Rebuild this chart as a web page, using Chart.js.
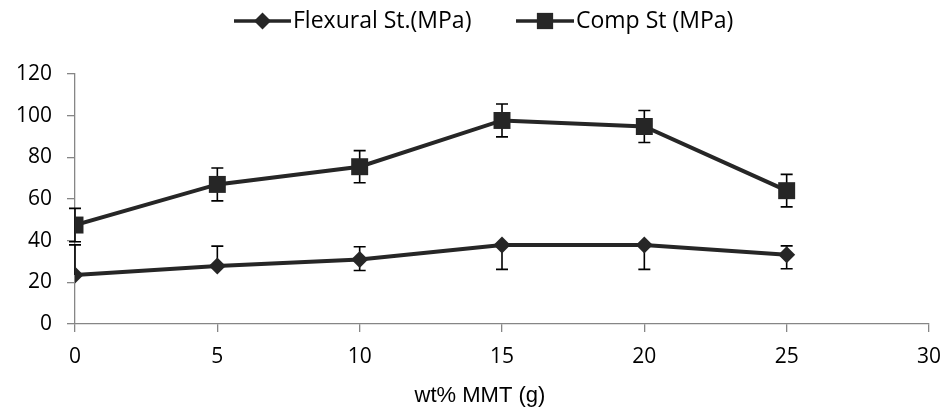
<!DOCTYPE html>
<html lang="en">
<head>
  <meta charset="UTF-8" />
  <title>Flexural and compressive strength vs MMT</title>
  <script src="https://cdn.jsdelivr.net/npm/chart.js"></script>
  <style>
    body { margin: 0; padding: 0; background: #fff; }
    #wrap { width: 944px; height: 416px; }
  </style>
</head>
<body>
  <div id="wrap"><canvas id="chart" width="944" height="416"></canvas></div>

  <script>
    // values
    const mmt = [0, 5, 10, 15, 20, 25];
    const flexural = [23.5, 27.8, 31.0, 37.9, 37.9, 33.2];
    const flexUp = [14.5, 9.6, 6.1, 0, 0, 4.3];
    const flexDown = [0, 0, 5.3, 11.7, 11.7, 6.7];
    const comp = [47.5, 67.0, 75.5, 97.7, 94.8, 64.0];
    const compErr = [8.0, 7.9, 7.7, 7.9, 7.7, 7.8];
    const xTicks = [0, 5, 10, 15, 20, 25, 30];
    const yTicks = [0, 20, 40, 60, 80, 100, 120];
    const xTitle = "wt% MMT (g)";

    const lineColor = "#262626";
    const axisColor = "#868686";

    const errorBars = {
      id: "errorBars",
      beforeDatasetsDraw(chart) {
        const { ctx, scales: { x, y } } = chart;
        const sets = [
          { vals: flexural, up: flexUp, down: flexDown },
          { vals: comp, up: compErr, down: compErr },
        ];
        ctx.save();
        ctx.strokeStyle = "#000";
        ctx.lineWidth = 1.6;
        sets.forEach((s) => {
          s.vals.forEach((v, i) => {
            const px = x.getPixelForValue(mmt[i]);
            const top = y.getPixelForValue(v + s.up[i]);
            const bot = y.getPixelForValue(v - s.down[i]);
            ctx.beginPath();
            ctx.moveTo(px, top);
            ctx.lineTo(px, bot);
            if (s.up[i] > 0) { ctx.moveTo(px - 6, top); ctx.lineTo(px + 6, top); }
            if (s.down[i] > 0) { ctx.moveTo(px - 6, bot); ctx.lineTo(px + 6, bot); }
            ctx.stroke();
          });
        });
        ctx.restore();
      },
    };

    // legend (line with marker in the middle) and the x title, centred on the whole chart like Excel does
    const extras = {
      id: "extras",
      afterDraw(chart) {
        const ctx = chart.ctx;
        const items = [
          { text: "Flexural St.(MPa)", x0: 234, x1: 291, style: "rectRot", r: 8.5 },
          { text: "Comp St (MPa)", x0: 516, x1: 574, style: "rect", r: 11.5 },
        ];
        const cy = 21;
        ctx.save();
        items.forEach((it) => {
          ctx.strokeStyle = lineColor;
          ctx.lineWidth = 3.5;
          ctx.beginPath();
          ctx.moveTo(it.x0, cy);
          ctx.lineTo(it.x1, cy);
          ctx.stroke();
          ctx.fillStyle = lineColor;
          Chart.helpers.drawPoint(ctx, { pointStyle: it.style, radius: it.r, borderWidth: 0 }, (it.x0 + it.x1) / 2, cy);
          ctx.fillStyle = "#000";
          ctx.font = "23px 'Open Sans'";
          ctx.textAlign = "left";
          ctx.textBaseline = "middle";
          ctx.fillText(it.text, it.x1 + 2, cy);
        });
        ctx.font = "22px 'Liberation Sans'";
        ctx.textAlign = "center";
        ctx.textBaseline = "middle";
        ctx.fillText(xTitle, 480, 396);
        ctx.restore();
      },
    };

    const ctx = document.getElementById("chart").getContext("2d");

    new Chart(ctx, {
      type: "line",
      data: {
        datasets: [
          {
            label: "Flexural St.(MPa)",
            data: mmt.map((m, i) => ({ x: m, y: flexural[i] })),
            borderColor: lineColor,
            backgroundColor: lineColor,
            borderWidth: 4,
            pointStyle: "rectRot",
            pointRadius: 8.5,
            pointBorderWidth: 0,
            tension: 0,
          },
          {
            label: "Comp St (MPa)",
            data: mmt.map((m, i) => ({ x: m, y: comp[i] })),
            borderColor: lineColor,
            backgroundColor: lineColor,
            borderWidth: 4,
            pointStyle: "rect",
            pointRadius: 12,
            pointBorderWidth: 0,
            tension: 0,
          },
        ],
      },
      options: {
        responsive: false,
        animation: false,
        layout: { padding: { top: 74, right: 15, left: 0, bottom: 0 } },
        plugins: {
          legend: { display: false },
          tooltip: { enabled: false },
        },
        scales: {
          x: {
            type: "linear",
            min: 0,
            max: 30,
            afterBuildTicks: (s) => { s.ticks = xTicks.map((v) => ({ value: v })); },
            afterFit: (s) => { s.height = 92; s.paddingLeft = 0; s.paddingRight = 0; },
            border: { display: true, color: axisColor, width: 1.3 },
            grid: { drawOnChartArea: false, drawTicks: true, tickLength: 8, color: axisColor, lineWidth: 1.3 },
            ticks: {
              color: "#000",
              padding: 12,
              font: { family: "'Open Sans'", size: 21 },
            },
          },
          y: {
            min: 0,
            max: 120,
            afterBuildTicks: (s) => { s.ticks = yTicks.map((v) => ({ value: v })); },
            afterFit: (s) => { s.width = 75; s.paddingTop = 0; s.paddingBottom = 0; },
            border: { display: true, color: axisColor, width: 1.3 },
            grid: { drawOnChartArea: false, drawTicks: true, tickLength: 8, color: axisColor, lineWidth: 1.3 },
            ticks: {
              color: "#000",
              padding: 15,
              font: { family: "'Open Sans'", size: 21 },
            },
          },
        },
      },
      plugins: [errorBars, extras],
    });
  </script>
</body>
</html>
